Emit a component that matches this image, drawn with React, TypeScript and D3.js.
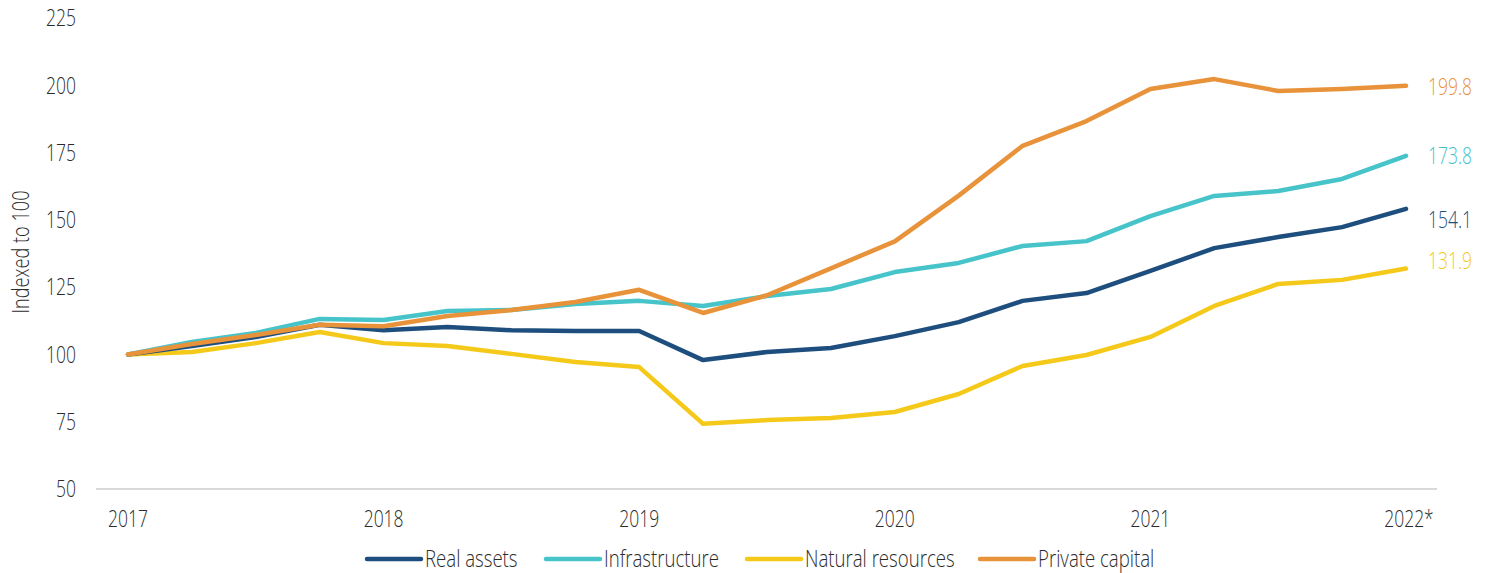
import React from "react";
import * as d3 from "d3";

const periods: string[] = [
  "2017Q0","2017Q1","2017Q2","2017Q3",
  "2018Q0","2018Q1","2018Q2","2018Q3",
  "2019Q0","2019Q1","2019Q2","2019Q3",
  "2020Q0","2020Q1","2020Q2","2020Q3",
  "2021Q0","2021Q1","2021Q2","2021Q3",
  "2022Q0",
];

const realAssets = [100, 103.1, 106.5, 111, 109, 110.2, 109, 108.7, 108.7, 97.9, 100.9, 102.4, 106.8, 112, 119.9, 122.8, 131, 139.5, 143.6, 147.3, 154.1];
const infrastructure = [100, 104.6, 108, 113.2, 112.8, 116.1, 116.5, 118.7, 119.9, 118, 121.7, 124.3, 130.6, 134, 140.3, 142.1, 151.4, 158.9, 160.7, 165.2, 173.8];
const naturalResources = [100, 100.9, 104.2, 108.3, 104.2, 103.1, 100.2, 97.2, 95.3, 74.2, 75.6, 76.4, 78.6, 85.3, 95.7, 99.8, 106.5, 118, 126.2, 127.7, 131.9];
const privateCapital = [100, 103.9, 107.2, 111, 110.5, 114.3, 116.5, 119.5, 124, 115.4, 122, 132, 142, 159, 177.5, 186.7, 198.6, 202.3, 197.9, 198.6, 199.8];

const xTickIndex = [0, 4, 8, 12, 16, 20];
const xTickLabels = ["2017", "2018", "2019", "2020", "2021", "2022*"];
const yTicks = [50, 75, 100, 125, 150, 175, 200, 225];

const seriesNames = ["Real assets", "Infrastructure", "Natural resources", "Private capital"];
const seriesValues = [realAssets, infrastructure, naturalResources, privateCapital];
const seriesColors = ["#1d4e7e", "#47c4c9", "#f5c91a", "#e8923a"];
// draw order: bottom first
const drawOrder = [2, 0, 1, 3];
// vertical nudges (px) for end labels
const endLabelNudge = [11, 0, -8, 1];

const W = 1489;
const H = 573;
const FONT = "'Open Sans', 'Noto Sans', sans-serif";
const FS = 23;

function NText(props: {
  x: number;
  y: number;
  rotate?: number;
  anchor?: string;
  fill?: string;
  sx?: number;
  children: React.ReactNode;
}) {
  const { x, y, rotate = 0, anchor = "start", fill = "#2b2b2b", sx = 0.76, children } = props;
  return (
    <text
      transform={`translate(${x},${y}) rotate(${rotate}) scale(${sx},1)`}
      textAnchor={anchor}
      dy="0.36em"
      fontSize={FS}
      fontWeight={300}
      fill={fill}
    >
      {children}
    </text>
  );
}

export default function App() {
  const x = d3.scaleLinear().domain([0, periods.length - 1]).range([128, 1406]);
  const y = d3.scaleLinear().domain([50, 225]).range([489, 18]);
  const line = d3
    .line<number>()
    .x((_, i) => x(i))
    .y((d) => y(d));

  const legendX = [367, 546, 747, 980];

  return (
    <svg
      width={W}
      height={H}
      style={{ position: "absolute", left: 0, top: 0, background: "#fff" }}
      fontFamily={FONT}
    >
      {/* axis baseline */}
      <line x1={96} x2={1437} y1={y(50)} y2={y(50)} stroke="#d9d9d9" strokeWidth={2} />

      {/* y tick labels */}
      {yTicks.map((t) => (
        <NText key={t} x={76} y={y(t)} anchor="end">
          {t}
        </NText>
      ))}

      {/* y title */}
      <NText x={21} y={252} rotate={-90} anchor="middle" sx={0.79}>
        Indexed to 100
      </NText>

      {/* x tick labels */}
      {xTickIndex.map((idx, k) => (
        <NText key={idx} x={x(idx) + (k === xTickLabels.length - 1 ? 3 : 0)} y={519} anchor="middle">
          {xTickLabels[k]}
        </NText>
      ))}

      {/* lines */}
      {drawOrder.map((s) => (
        <path
          key={s}
          d={line(seriesValues[s]) || ""}
          fill="none"
          stroke={seriesColors[s]}
          strokeWidth={4.5}
          strokeLinejoin="round"
          strokeLinecap="round"
        />
      ))}

      {/* end labels */}
      {seriesValues.map((vals, s) => (
        <NText key={s} x={1428} y={y(vals[vals.length - 1]) + endLabelNudge[s]} fill={seriesColors[s]}>
          {vals[vals.length - 1].toFixed(1)}
        </NText>
      ))}

      {/* legend */}
      {seriesNames.map((name, s) => (
        <g key={name} transform={`translate(${legendX[s]}, 559)`}>
          <line x1={0} x2={54} y1={0} y2={0} stroke={seriesColors[s]} strokeWidth={4.5} strokeLinecap="round" />
          <NText x={58} y={0} sx={0.81}>
            {name}
          </NText>
        </g>
      ))}
    </svg>
  );
}
